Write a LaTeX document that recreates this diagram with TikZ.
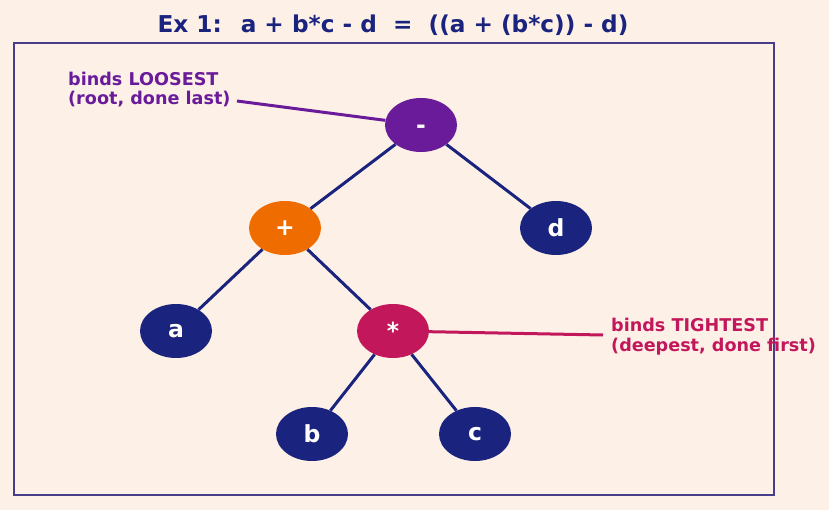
\documentclass[tikz,border=0pt]{standalone}
\usepackage{fontspec}
\setmainfont{DejaVu Sans}
\usetikzlibrary{shapes.geometric}
\definecolor{bgpeach}{HTML}{FDF1E7}
\definecolor{navy}{HTML}{1A237E}
\definecolor{loosepurple}{HTML}{6A1B9A}
\definecolor{plusorange}{HTML}{EF6C00}
\definecolor{tightpink}{HTML}{C2185B}
\definecolor{framelila}{HTML}{483D8B}

\begin{document}
\begin{tikzpicture}[
  x=1pt,
  y=-1pt,
  op/.style={
    ellipse,
    fill=navy,
    minimum width=72pt,
    minimum height=54pt,
    inner sep=0pt,
    text=white,
    font=\fontsize{23.5}{27}\selectfont\bfseries,
  },
  edge/.style={navy, line width=3pt},
  note/.style={
    anchor=west,
    align=left,
    inner sep=0pt,
    font=\fontsize{17.6}{19.5}\selectfont\bfseries,
  },
]
  \fill[bgpeach] (0,0) rectangle (829,510);
  \useasboundingbox (0,0) rectangle (829,510);
  \draw[framelila, line width=1.5pt] (14,43) rectangle (774,495);
  \node[navy, font=\fontsize{23.2}{27}\selectfont\bfseries] (title)
    at (393,25) {Ex 1:~ a + b*c - d~ =~ ((a + (b*c)) - d)};

  \node[op, fill=loosepurple] (minus) at (421,125) {\raisebox{-9pt}[0pt][0pt]{-}};
  \node[op, fill=plusorange] (plus) at (285,228) {+};
  \node[op] (d) at (556,228) {d};
  \node[op] (a) at (176,331) {a};
  \node[op, fill=tightpink] (times) at (393,331) {*};
  \node[op] (b) at (312,434) {b};
  \node[op] (c) at (475,434) {c};
  \foreach \from/\to in {minus/plus, minus/d, plus/a, plus/times, times/b, times/c} {
    \draw[edge] (\from) -- (\to);
  }

  \node[note, text=loosepurple] (loose) at (68,89.5) {binds LOOSEST\\(root, done last)};
  \coordinate (loosetip) at (237,101);
  \draw[loosepurple, line width=3pt] (loosetip) -- (minus);
  \node[note, text=tightpink] (tight) at (611,336.5) {binds TIGHTEST\\(deepest, done first)};
  \coordinate (tighttip) at (603,335);
  \draw[tightpink, line width=3pt] (times) -- (tighttip);
\end{tikzpicture}
\end{document}
